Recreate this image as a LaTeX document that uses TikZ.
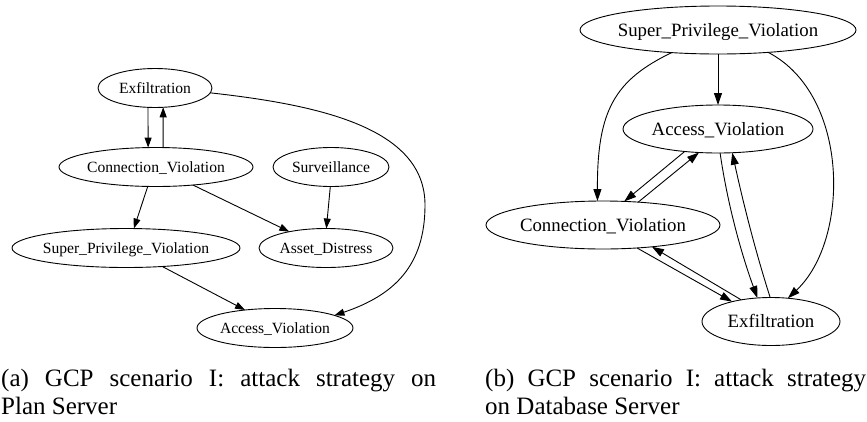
\documentclass[tikz,border=0pt]{standalone}
\usepackage{fontspec}
\setmainfont{Liberation Serif}
\usetikzlibrary{shapes.geometric,arrows.meta}
\begin{document}
\begin{tikzpicture}[x=1pt,y=-1pt,
  ell/.style={draw, ellipse, inner sep=0pt, outer sep=0pt, line width=0.9pt, text depth=0pt},
  lnode/.style={ell, font=\fontsize{15.6}{18}\selectfont, text height=10.3pt, minimum height=39pt},
  rnode/.style={ell, font=\fontsize{18.8}{22}\selectfont, text height=12.4pt, minimum height=48pt},
  ledge/.style={-{Triangle[length=10pt,width=7pt]}, line width=0.9pt},
  redge/.style={-{Triangle[length=12pt,width=8pt]}, line width=0.9pt},
  captext/.style={anchor=base west, inner sep=0pt, font=\fontsize{25}{28}\selectfont}]
\useasboundingbox (0,0) rectangle (867,421);

% ---- (a) Plan Server ----
\node[lnode, minimum width=114pt] (lE) at (155,88) {\makebox[0pt]{Exfiltration}};
\node[lnode, minimum width=194pt] (lC) at (156,167) {\makebox[0pt]{Connection\_Violation}};
\node[lnode, minimum width=116pt] (lS) at (331,167) {\makebox[0pt]{Surveillance}};
\node[lnode, minimum width=228pt] (lP) at (126,248) {\makebox[0pt]{Super\_Privilege\_Violation}};
\node[lnode, minimum width=134pt] (lD) at (326,248) {\makebox[0pt]{Asset\_Distress}};
\node[lnode, minimum width=156pt] (lA) at (275,328) {\makebox[0pt]{Access\_Violation}};

\draw[ledge] (lE.-110) -- (lC.112);
\draw[ledge] (lC.70.7) -- (lE.-67.2);
\draw[ledge] (lC.-113.2) -- (lP.68.2);
\draw[ledge] (lC.-26) -- (lD.156);
\draw[ledge] (lS.-92) -- (lD.89);
\draw[ledge] (lP.-27.8) -- (lA.149);
\draw[ledge] (lE.-5) .. controls (320,105) and (425,128) .. (425,205)
  .. controls (425,265) and (395,295) .. (lA.12);

% ---- (b) Database Server ----
\node[rnode, minimum width=276pt] (rP) at (718,30) {\makebox[0pt]{Super\_Privilege\_Violation}};
\node[rnode, minimum width=190pt] (rA) at (718,129) {\makebox[0pt]{Access\_Violation}};
\node[rnode, minimum width=234pt] (rC) at (603,225) {\makebox[0pt]{Connection\_Violation}};
\node[rnode, minimum width=138pt] (rE) at (771,321.5) {\makebox[0pt]{Exfiltration}};

\draw[redge] (rP) -- (rA);
\draw[redge] (rP.-154.8) .. controls (615,80) and (597,110) .. (rC.103.5);
\draw[redge] (rP.-24.8) .. controls (850,95) and (850,240) .. (rE.54);
\draw[redge] (rA.-146.7) -- (rC.48.8);
\draw[redge] (rC.33) -- (rA.-129.8);
\draw[redge] (rA.-85) .. controls (727,201) and (740,250) .. (rE.120);
\draw[redge] (rE.92) .. controls (755,250) and (743,202) .. (rA.-59);
\draw[redge] (rC.-34) -- (rE.153.4);
\draw[redge] (rE.144) -- (rC.-24);

% ---- captions ----
\node[captext] (capa1) at (1,386) {\makebox[435pt][s]{(a) GCP scenario I: attack strategy on}};
\node[captext] (capa2) at (1,414) {Plan Server};
\node[captext] (capb1) at (485,386) {\makebox[381pt][s]{(b) GCP scenario I: attack strategy}};
\node[captext] (capb2) at (485,414) {on Database Server};
\end{tikzpicture}
\end{document}
